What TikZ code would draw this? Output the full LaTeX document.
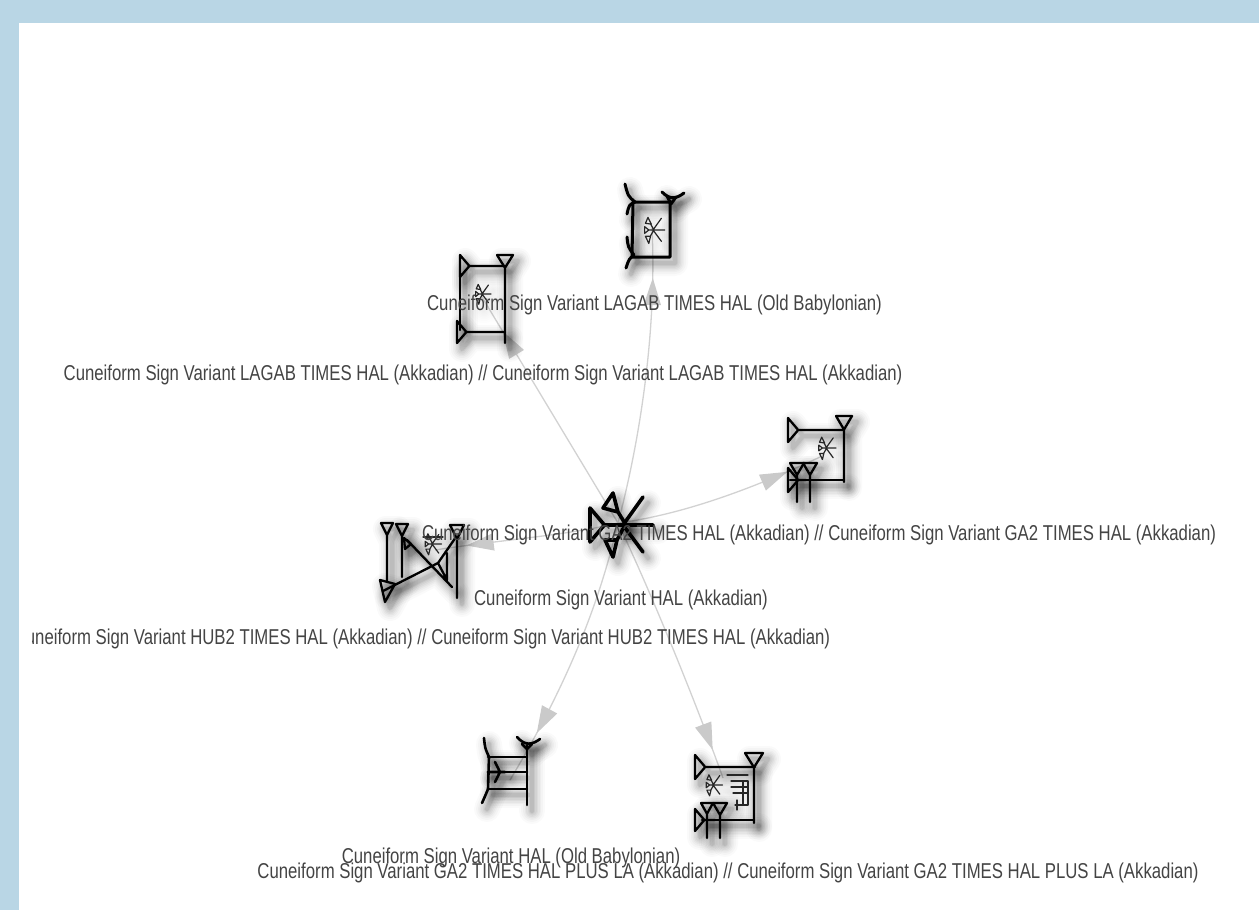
\documentclass[tikz,border=0pt]{standalone}
\usepackage{fontspec}
\setmainfont[FakeStretch=0.7787]{Liberation Sans}
\usetikzlibrary{arrows.meta,decorations.markings}
\definecolor{panelblue}{HTML}{B9D6E5}
\definecolor{edgegrey}{HTML}{D2D2D2}
\definecolor{tipgrey}{HTML}{CACACA}
\definecolor{textgrey}{HTML}{444444}
\tikzset{
  gl/.style={draw=black,line width=2.3pt,line join=round,line cap=round},
  gls/.style={draw=black!85,line width=1.2pt,line cap=round,line join=round},
  lbl/.style={text=textgrey,font=\fontsize{21.5}{23}\selectfont,inner sep=0pt},
  conn/.style={draw=edgegrey,line width=1.3pt},
  tipat/.style={postaction={decorate},decoration={markings,mark=at position #1 with {\arrow[tipgrey]{Triangle[length=27pt,width=17pt]}}}}
}
% wedge: optional depth factor; x, y of base centre, rotation, half size, total length
\newcommand\wdg[6][.85]{\draw[gl,shift={(#2,#3)},rotate=#4] (0,-#5) -- (0,#5) -- (#5*#1,0) -- cycle (#5*#1,0) -- (#6,0);}
% small star of HAL: centre, scale
\newcommand\halstar[3]{\begin{scope}[shift={(#1,#2)},scale=#3]
  \draw[gls] (-20,-8) -- (-20,8) -- (-10,0) -- cycle (-10,0) -- (28,0)
    (0,0) -- (20,-28) (0,0) -- (20,27) (-12,-30) -- (-18,-16) -- (-4,-14) -- cycle (-6,-15) -- (2,0)
    (-18,15) -- (-10,32) -- (-6,15) -- cycle (-6,14) -- (2,0);
\end{scope}}
\newcommand\glyphTop{%
  \draw[gl] (633,202) -- (670,202) -- (670,257) -- (632,257) -- cycle;
  \draw[gl] (625,184) .. controls (628,196) .. (635,202) .. controls (629,205) .. (627,214);
  \draw[gl] (627,237) .. controls (628,247) .. (634,255) .. controls (629,259) .. (626,268);
  \draw[gl] (662,192) .. controls (670,200) and (676,199) .. (684,193);
  \draw[gl] (667,196) -- (671,204) -- (676,197);
  \halstar{653}{230}{.42}}
\newcommand\glyphTL{%
  \wdg{460}{266}{0}{11}{45}
  \wdg{457}{332}{0}{11}{48}
  \wdg[1.6]{505}{255}{-90}{8}{88}
  \draw[gl] (460,266) -- (460,330);
  \halstar{482}{294}{.32}}
\newcommand\glyphRight{%
  \wdg{788}{430}{0}{12}{55}
  \wdg[1.7]{844}{416}{-90}{8}{66}
  \draw[gl] (790,480) -- (843,480);
  \wdg{788}{480}{0}{12}{18}
  \wdg[1.7]{797}{463}{-90}{7}{39}
  \wdg[1.7]{810}{463}{-90}{7}{39}
  \halstar{826}{448}{.36}}
\newcommand\glyphLeft{%
  \wdg[2]{387}{523}{-90}{6}{59}
  \wdg[2]{402}{524}{-90}{6}{53}
  \wdg[2]{457}{525}{-90}{7}{73}
  \draw[gl] (383,591) -- (438,563) -- (456,537) (407,540) -- (452,587) (447,553) -- (447,580) -- (438,563);
  \draw[gl] (380,580) -- (385,602) -- (395,584) -- cycle;
  \draw[gl] (404,538) -- (411,544) -- (405,549) -- cycle;
  \draw[gls] (423,537) -- (443,537);
  \halstar{432}{544}{.34}}
\newcommand\glyphBL{%
  \draw[gl] (527,745) -- (527,805) (488,757) -- (527,757) (488,772) -- (527,772) (488,789) -- (527,789);
  \draw[gl] (517,737) .. controls (525,746) and (532,745) .. (540,739);
  \draw[gl] (522,744) -- (527,749) -- (532,744);
  \draw[gl] (484,738) .. controls (485,748) .. (489,757) -- (488,789) .. controls (486,794) .. (482,803);
  \draw[gl] (495,762) -- (500,772) -- (495,782) (488,772) -- (505,772);}
\newcommand\glyphBR{%
  \wdg{695}{767}{0}{12}{60}
  \wdg[1.6]{754}{753}{-90}{9}{70}
  \draw[gl] (702,820) -- (754,820);
  \wdg{695}{820}{0}{11}{20}
  \wdg[1.8]{707}{803}{-90}{6}{35}
  \wdg[1.7]{720}{803}{-90}{7}{35}
  \draw[gls] (727,775) -- (748,775) (731,781) -- (748,781) (731,787) -- (748,787) (733,793) -- (748,793) (735,805) -- (748,805) (743,781) -- (743,805) (748,781) -- (748,805) (737,800) -- (737,810);
  \halstar{713}{785}{.34}}
\newcommand\glyphHal{%
  \wdg{590}{525}{0}{17}{63}
  \draw[gl] (623,525) -- (643,497) (623,525) -- (643,552);
  \draw[gl] (613,493) -- (603,508) -- (618,512) -- cycle (618,512) -- (626,525);
  \draw[gl] (605,540) -- (613,557) -- (617,540) -- cycle (617,540) -- (625,525);}
\newcommand\shadowed[2][2.3]{%
  \begin{scope}[shift={(5,6)}]
    \foreach \wd/\op in {26/.02,22/.024,18/.028,15/.032,12/.036,9/.04,6/.05,4/.06}{%
      \tikzset{gl/.style={draw=black,draw opacity=\op,line width=\wd pt,line cap=round,line join=round},
               gls/.style={draw=black,draw opacity=.006,line width=\wd pt,line cap=round,line join=round}}
      #2
    }
  \end{scope}
  \begin{scope}[gl/.style={draw=black,line width=#1pt,line join=round,line cap=round}]
  #2
  \end{scope}}
\begin{document}
\begin{tikzpicture}[x=1pt,y=-1pt]
\useasboundingbox (0,0) rectangle (1259,910);
\fill[panelblue] (0,0) rectangle (1259,910);
\fill[white] (19,23) rectangle (1259,910);
\coordinate (hal) at (618,523);
\coordinate (lagabakk) at (482,297);
\coordinate (lagabob) at (652,228);
\coordinate (ga) at (820,457);
\coordinate (hub) at (435,550);
\coordinate (halob) at (510,780);
\coordinate (gala) at (723,778);
% connectors
\draw[conn,tipat=-40pt] (hal) -- (lagabakk);
\draw[conn,tipat=-50pt] (hal) .. controls (640,440) and (657,330) .. (lagabob);
\draw[conn,tipat=-36pt] (hal) .. controls (680,515) and (750,490) .. (ga);
\draw[conn,tipat=-32pt] (hal) .. controls (570,535) and (500,540) .. (hub);
\draw[conn,tipat=-54pt] (hal) .. controls (600,600) and (570,680) .. (halob);
\draw[conn,tipat=-30pt] (hal) .. controls (650,590) and (695,700) .. (gala);
% signs
\shadowed[3]{\glyphTop}
\shadowed{\glyphTL}
\shadowed{\glyphRight}
\shadowed{\glyphLeft}
\shadowed[2.6]{\glyphBL}
\shadowed{\glyphBR}
\shadowed[3.6]{\glyphHal}
% labels
\node[lbl] (t1) at (654.5,304.5) {Cuneiform Sign Variant LAGAB TIMES HAL (Old Babylonian)};
\node[lbl] (t2) at (483,374.5) {Cuneiform Sign Variant LAGAB TIMES HAL (Akkadian) // Cuneiform Sign Variant LAGAB TIMES HAL (Akkadian)};
\node[lbl] (t3) at (819,534.5) {Cuneiform Sign Variant GA2 TIMES HAL (Akkadian) // Cuneiform Sign Variant GA2 TIMES HAL (Akkadian)};
\node[lbl] (t4) at (621,599.5) {Cuneiform Sign Variant HAL (Akkadian)};
\begin{scope}
\clip (32,600) rectangle (1259,680);
\node[lbl] (t5) at (422,638.5) {Cuneiform Sign Variant HUB2 TIMES HAL (Akkadian) // Cuneiform Sign Variant HUB2 TIMES HAL (Akkadian)};
\end{scope}
\node[lbl] (t6) at (511,857.5) {Cuneiform Sign Variant HAL (Old Babylonian)};
\node[lbl] (t7) at (728,872.5) {Cuneiform Sign Variant GA2 TIMES HAL PLUS LA (Akkadian) // Cuneiform Sign Variant GA2 TIMES HAL PLUS LA (Akkadian)};
\end{tikzpicture}
\end{document}
